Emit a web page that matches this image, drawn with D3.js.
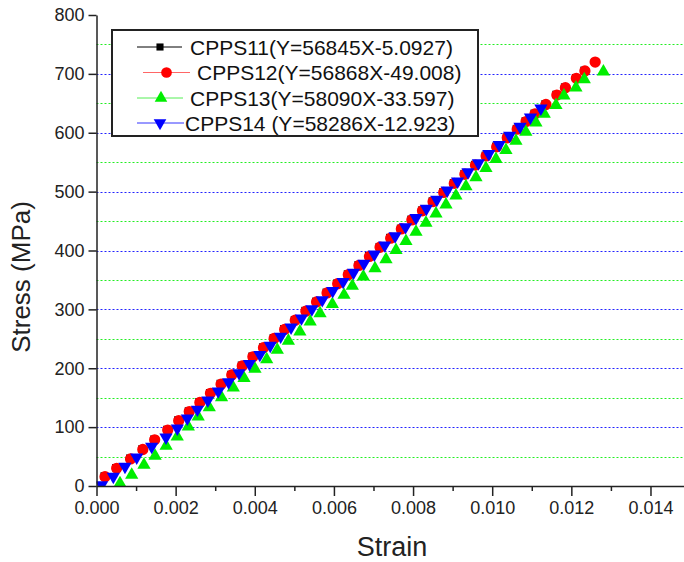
<!doctype html>
<html lang="en">
<head>
  <meta charset="UTF-8">
  <script src="https://cdn.jsdelivr.net/npm/d3@7/dist/d3.min.js"></script>
  <title>Stress - Strain</title>
  <style>
    body{ margin:0; background:#fff; }
    .chart svg{ display:block; background:#fff; font-family: Arial, 'Liberation Sans', sans-serif; }
  </style>
</head>
<body>
  <div class="chart"></div>
  <script>
    // values
    const strain11 = [0.000195, 0.00049, 0.00084, 0.00115, 0.00145, 0.00178, 0.002057, 0.002324, 0.002592, 0.00286, 0.003128, 0.003398, 0.003664, 0.003932, 0.0042, 0.004469, 0.004735, 0.005003, 0.005271, 0.005541, 0.005807, 0.006075, 0.006343, 0.006612, 0.006878, 0.007146, 0.007414, 0.007684, 0.00795, 0.008218, 0.008486, 0.008755, 0.009022, 0.00929, 0.009557, 0.009827, 0.010093, 0.010361, 0.010612, 0.010836, 0.011061, 0.011338, 0.011614, 0.01183, 0.012107, 0.012323];
    const stress11 = [16.8, 31, 47, 63, 79.5, 96, 112, 127.5, 143, 158.5, 174, 189.6, 205, 220.5, 236, 251.6, 267, 282.5, 298, 313.6, 329, 344.5, 360, 375.6, 391, 406.5, 422, 437.6, 453, 468.5, 484, 499.6, 515, 530.5, 546, 561.6, 577, 592.5, 607, 620, 633, 649, 665, 677.5, 693.5, 706];

    const strain12 = [0.000215, 0.00051, 0.00086, 0.00117, 0.00147, 0.0018, 0.002077, 0.002344, 0.002612, 0.00288, 0.003148, 0.003418, 0.003684, 0.003952, 0.00422, 0.004489, 0.004755, 0.005023, 0.005291, 0.005561, 0.005827, 0.006095, 0.006363, 0.006632, 0.006898, 0.007166, 0.007434, 0.007704, 0.00797, 0.008238, 0.008506, 0.008775, 0.009042, 0.00931, 0.009577, 0.009847, 0.010113, 0.010381, 0.010632, 0.010856, 0.011081, 0.011358, 0.011634, 0.01185, 0.012127, 0.012343, 0.012602];
    const stress12 = [15.8, 30, 46, 62, 78.5, 95, 111, 126.5, 142, 157.5, 173, 188.6, 204, 219.5, 235, 250.6, 266, 281.5, 297, 312.6, 328, 343.5, 359, 374.6, 390, 405.5, 421, 436.6, 452, 467.5, 483, 498.6, 514, 529.5, 545, 560.6, 576, 591.5, 606, 619, 632, 648, 664, 676.5, 692.5, 705, 720];

    const strain13 = [0.000594, 0.00089, 0.0012, 0.00148, 0.00176, 0.00204, 0.00232, 0.00257, 0.00285, 0.00316, 0.003457, 0.003728, 0.004005, 0.004301, 0.004569, 0.00485, 0.00514, 0.0054, 0.00565, 0.00596, 0.006255, 0.006465, 0.006743, 0.007038, 0.007316, 0.007569, 0.007821, 0.008074, 0.008326, 0.008579, 0.008832, 0.009084, 0.009337, 0.00959, 0.009842, 0.010095, 0.010347, 0.0106, 0.01085, 0.011105, 0.011315, 0.011611, 0.011813, 0.012116, 0.012327, 0.01281];
    const stress13 = [4.5, 18.7, 35.7, 51, 68, 83.8, 100.7, 117.7, 133.5, 150.6, 167, 183, 198.7, 215, 231, 246.5, 262, 279, 293.3, 309, 324.4, 339.7, 355.5, 369.7, 385, 400.5, 416, 431.4, 446.9, 462.4, 477.8, 493.3, 508.8, 524.2, 539.7, 555.2, 570.6, 586.1, 601.5, 617, 632, 647, 663, 676.5, 690.7, 703.7];

    const strain14 = [0.00013, 0.000425, 0.00072, 0.001016, 0.001395, 0.001756, 0.002042, 0.002295, 0.00255, 0.002813, 0.003076, 0.003339, 0.003602, 0.003865, 0.004128, 0.004391, 0.004654, 0.004917, 0.00518, 0.005443, 0.005706, 0.005969, 0.006232, 0.006495, 0.006758, 0.007021, 0.007284, 0.007547, 0.00781, 0.008074, 0.008337, 0.0086, 0.008863, 0.009126, 0.009389, 0.009652, 0.009915, 0.010178, 0.010441, 0.010704, 0.010967, 0.01123];
    const stress14 = [1.7, 15.8, 32.8, 48.7, 66.8, 82.7, 98, 115, 130, 145.5, 161, 176.5, 192, 207.5, 223, 238.5, 254, 269.5, 285, 300.5, 316, 331.5, 347, 362.5, 378, 393.5, 409, 424.5, 440, 455.5, 471, 486.5, 502, 517.5, 533, 548.5, 564, 579.5, 595, 610.5, 626, 641.5];

    const legendLabels = ['CPPS11(Y=56845X-5.0927)', 'CPPS12(Y=56868X-49.008)', 'CPPS13(Y=58090X-33.597)', 'CPPS14 (Y=58286X-12.923)'];
    const xTicks = [0, 0.002, 0.004, 0.006, 0.008, 0.010, 0.012, 0.014];
    const xMinorTicks = [0.001, 0.003, 0.005, 0.007, 0.009, 0.011, 0.013];
    const yTicks = [0, 100, 200, 300, 400, 500, 600, 700, 800];
    const yGridMajor = [100, 200, 300, 400, 500, 600, 700];
    const yGridMinor = [50, 150, 250, 350, 450, 550, 650, 750];

    const bxSize = {w: 684, h: 562};
    const plot = {left: 96.5, right: 684, top: 15, bottom: 486};

    const svg = d3.select('.chart').append('svg')
      .attr('width', bxSize.w).attr('height', bxSize.h);

    const xScale = d3.scaleLinear()
      .domain([0, (plot.right - plot.left) / 39570])
      .range([plot.left, plot.right]);
    const yScale = d3.scaleLinear().domain([0, 800]).range([plot.bottom, plot.top]);

    // grid
    const grid = svg.append('g');
    grid.selectAll('line.minor').data(yGridMinor).enter().append('line')
      .attr('x1', plot.left).attr('x2', plot.right)
      .attr('y1', d => Math.round(yScale(d)) + 0.5).attr('y2', d => Math.round(yScale(d)) + 0.5)
      .attr('stroke', '#22ee22').attr('stroke-dasharray', '2,2').attr('stroke-width', 1);
    grid.selectAll('line.major').data(yGridMajor).enter().append('line')
      .attr('x1', plot.left).attr('x2', plot.right)
      .attr('y1', d => Math.round(yScale(d)) + 0.5).attr('y2', d => Math.round(yScale(d)) + 0.5)
      .attr('stroke', '#2222ff').attr('stroke-dasharray', '2,2').attr('stroke-width', 1);

    // data
    const series = [
      {x: strain11, y: stress11, color: '#000000', line: '#000000', symbol: d3.symbolSquare, size: 56, rot: 0},
      {x: strain12, y: stress12, color: '#ff0000', line: '#ff6666', symbol: d3.symbolCircle, size: 100, rot: 0},
      {x: strain13, y: stress13, color: '#00ee00', line: '#55ee55', symbol: d3.symbolTriangle, size: 76, rot: 0},
      {x: strain14, y: stress14, color: '#0000ff', line: '#3333ff', symbol: d3.symbolTriangle, size: 76, rot: 180}
    ];

    svg.append('clipPath').attr('id', 'clip').append('rect')
      .attr('x', plot.left).attr('y', 0)
      .attr('width', plot.right - plot.left).attr('height', plot.bottom);

    const marks = svg.append('g').attr('clip-path', 'url(#clip)');
    series.forEach(s => {
      const sym = d3.symbol().type(s.symbol).size(s.size);
      marks.append('g').selectAll('path').data(s.x).enter().append('path')
        .attr('d', sym)
        .attr('transform', (d, i) => `translate(${xScale(d)},${yScale(s.y[i])}) rotate(${s.rot})`)
        .attr('fill', s.color);
    });

    // axes
    const xAxis = d3.axisBottom(xScale).tickValues(xTicks).tickFormat(d3.format('.3f'))
      .tickSize(10).tickSizeOuter(0).tickPadding(5);
    const xAxisEle = svg.append('g').attr('transform', `translate(0, ${plot.bottom})`).call(xAxis);
    const xMinor = d3.axisBottom(xScale).tickValues(xMinorTicks).tickFormat('').tickSize(5).tickSizeOuter(0);
    const xMinorEle = svg.append('g').attr('transform', `translate(0, ${plot.bottom})`).call(xMinor);
    xMinorEle.select('.domain').remove();

    const yAxis = d3.axisLeft(yScale).tickValues(yTicks).tickFormat(d3.format('d'))
      .tickSize(8).tickSizeOuter(0).tickPadding(4);
    const yAxisEle = svg.append('g').attr('transform', `translate(${plot.left}, 0)`).call(yAxis);

    [xAxisEle, xMinorEle, yAxisEle].forEach(a => {
      a.selectAll('path, line').attr('stroke', '#222').attr('stroke-width', 1.5);
      a.selectAll('text').attr('fill', '#222').style('font-size', '18px')
        .style('font-family', "Arial, 'Liberation Sans', sans-serif");
    });

    svg.append('text').text('Strain')
      .attr('x', 392).attr('y', 556).attr('text-anchor', 'middle')
      .attr('fill', '#222').style('font-size', '27px');
    svg.append('text').text('Stress (MPa)')
      .attr('transform', 'translate(30, 277) rotate(-90)').attr('text-anchor', 'middle')
      .attr('fill', '#222').style('font-size', '26px');

    // legend
    const legend = svg.append('g');
    legend.append('rect').attr('x', 112).attr('y', 30).attr('width', 366).attr('height', 106)
      .attr('fill', '#fff').attr('stroke', '#222').attr('stroke-width', 2);
    const legendPos = [
      {cy: 47, x1: 137, x2: 182, mx: 160, tx: 190},
      {cy: 72.5, x1: 143, x2: 190, mx: 166.5, tx: 197},
      {cy: 98, x1: 137, x2: 183, mx: 161, tx: 190},
      {cy: 123, x1: 137, x2: 184, mx: 160, tx: 185}
    ];
    legendLabels.forEach((label, i) => {
      const p = legendPos[i], s = series[i];
      const row = legend.append('g');
      row.append('line').attr('x1', p.x1).attr('x2', p.x2).attr('y1', p.cy).attr('y2', p.cy)
        .attr('stroke', s.line).attr('stroke-width', 1);
      row.append('path').attr('d', d3.symbol().type(s.symbol).size(s.size * 0.9))
        .attr('transform', `translate(${p.mx},${p.cy}) rotate(${s.rot})`).attr('fill', s.color);
      row.append('text').text(label).attr('x', p.tx).attr('y', p.cy).attr('dy', '0.36em')
        .attr('fill', '#111').style('font-size', '21px');
    });
  </script>
</body>
</html>
